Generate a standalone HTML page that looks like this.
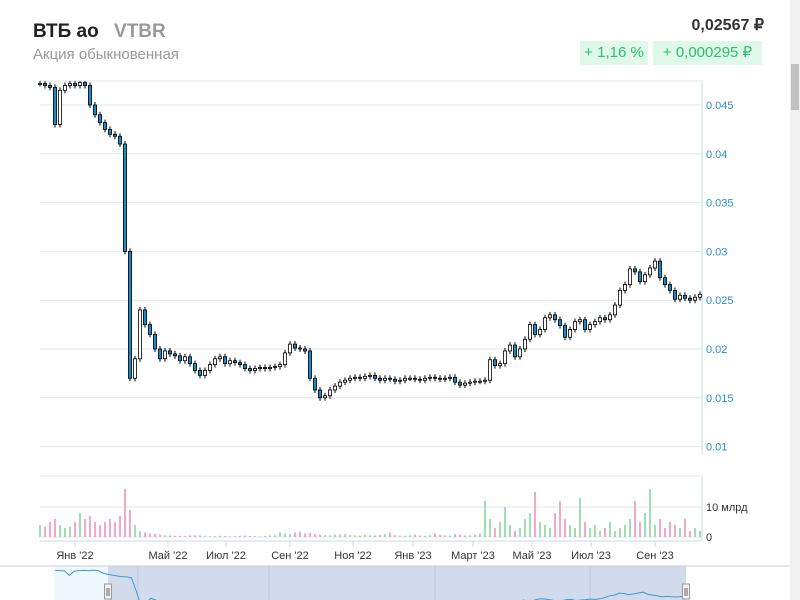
<!DOCTYPE html>
<html><head><meta charset="utf-8">
<style>
body{margin:0;width:800px;height:600px;overflow:hidden;background:#fff;font-family:"Liberation Sans","Noto Sans CJK SC",sans-serif;position:relative}
.abs{position:absolute}
</style></head><body>
<div class="abs" style="left:33px;top:21px;font-size:19px;font-weight:bold;color:#222">ВТБ ао <span style="color:#999;margin-left:10px">VTBR</span></div>
<div class="abs" style="left:33px;top:46px;font-size:15px;color:#999">Акция обыкновенная</div>
<div class="abs" style="right:36px;top:15px;font-size:16px;font-weight:bold;color:#333">0,02567 ₽</div>
<div class="abs" style="left:580px;top:41px;width:68px;height:24px;line-height:24px;text-align:center;background:#dff8ea;color:#2bbf6a;font-size:15px">+ 1,16 %</div>
<div class="abs" style="left:653px;top:41px;width:109px;height:24px;line-height:24px;text-align:center;background:#dff8ea;color:#2bbf6a;font-size:15px">+ 0,000295 ₽</div>
<div class="abs" style="left:790px;top:0;width:10px;height:600px;background:#f1f1f1"></div>
<div class="abs" style="left:791px;top:64px;width:8px;height:46px;background:#c1c1c1"></div>
<svg id="chart" class="abs" style="left:0;top:0" width="790" height="600"></svg>
<script>
const closes=[0.0472,0.0470,0.0468,0.0430,0.0465,0.0470,0.0472,0.0470,0.0473,0.0470,0.0450,0.0440,0.0432,0.0425,0.0420,0.0418,0.0410,0.0300,0.0170,0.0190,0.0240,0.0225,0.0215,0.0200,0.0190,0.0198,0.0195,0.0193,0.0188,0.0192,0.0185,0.0178,0.0173,0.0178,0.0184,0.0190,0.0192,0.0185,0.0188,0.0186,0.0184,0.0180,0.0178,0.0180,0.0181,0.0180,0.0181,0.0182,0.0184,0.0196,0.0205,0.0201,0.0200,0.0198,0.0170,0.0158,0.0150,0.0152,0.0158,0.0162,0.0166,0.0168,0.0170,0.0171,0.0170,0.0172,0.0173,0.0170,0.0168,0.0170,0.0169,0.0167,0.0168,0.0170,0.0170,0.0169,0.0168,0.0170,0.0171,0.0170,0.0169,0.0170,0.0171,0.0166,0.0163,0.0165,0.0166,0.0167,0.0167,0.0168,0.0189,0.0183,0.0185,0.0198,0.0204,0.0192,0.0200,0.0210,0.0225,0.0215,0.0220,0.0232,0.0235,0.0230,0.0224,0.0212,0.0220,0.0228,0.0230,0.0220,0.0225,0.0228,0.0232,0.0230,0.0235,0.0245,0.0260,0.0266,0.0282,0.0279,0.0269,0.0276,0.0283,0.0290,0.0273,0.0266,0.0260,0.0251,0.0255,0.0252,0.0250,0.0253,0.0256];
const volumes=[4,3.5,5,6,4,3,3.5,5,8,6,7,5,4,5,6,5,7,16,9,4,2,1.5,1.2,1,0.8,0.6,0.5,0.4,0.4,0.3,0.5,0.6,0.5,0.4,0.3,0.3,0.4,0.3,0.2,0.3,0.4,0.5,0.3,0.3,0.2,0.3,0.5,0.6,1.5,1.2,1,1.5,1.8,1.2,1.4,1,0.8,0.7,0.6,0.8,0.9,1,0.7,0.6,0.5,0.8,0.6,0.5,0.7,1,1.5,0.6,0.5,0.4,0.6,0.8,0.5,0.4,0.6,1.2,0.8,0.6,0.5,1,0.8,0.5,0.6,0.8,1.2,12,6,3,5,10,4,2,3,6,8,15,5,4,3,8,12,6,4,3,13,5,3,4,2,3,5,2,3,4,6,12,5,8,16,4,6,3,5,4,3,6,2,3,2,2.5,2,1.5,2];
const yTicks=[0.01,0.015,0.02,0.025,0.03,0.035,0.04,0.045];
const xLabels=["Янв '22","Май '22","Июл '22","Сен '22","Ноя '22","Янв '23","Март '23","Май '23","Июл '23","Сен '23"];
const xLabelIdx=[7,25.6,37.2,50,62.6,74.6,86.6,98.4,110.2,123];
const NS="http://www.w3.org/2000/svg";
const svg=document.getElementById('chart');
function mk(t,a,p){const e=document.createElementNS(NS,t);for(const k in a)e.setAttribute(k,a[k]);(p||svg).appendChild(e);return e;}
const X0=40,X1=700,n=closes.length,step=(X1-X0)/(n-1);
const xs=i=>X0+i*step;
const yP=v=>105+(0.045-v)*9760;
const yV=v=>537-v*3;
[81].concat(yTicks.map(yP)).forEach(y=>{const g=mk('line',{x1:X0,x2:702,y1:y,y2:y,stroke:'#e6e6e6'});});
mk('line',{x1:702,x2:702,y1:81,y2:455,stroke:'#c8d8ea'});
yTicks.forEach(v=>{const t=mk('text',{x:706,y:yP(v)+4,'font-size':11,fill:'#2a8fce'});t.textContent=String(v);});
const clip=mk('clipPath',{id:'pc'});mk('rect',{x:X0-3,y:81,width:665,height:380},clip);
const cg=mk('g',{'clip-path':'url(#pc)'});
closes.forEach((c,i)=>{
  const o=i?closes[i-1]:c;const x=xs(i);
  const hi=Math.max(o,c),lo=Math.min(o,c);
  const w=mk('line',{x1:x,x2:x,y1:yP(hi)-3,y2:yP(lo)+3,stroke:'#000'},cg);
  
  const r=mk('rect',{x:x-1.6,y:yP(hi),width:3.2,height:Math.max(1,yP(lo)-yP(hi)),fill:c<o?'#1a8ccc':'#fff',stroke:'#000','stroke-width':0.8},cg);
  
});
[476,507,537].forEach(y=>mk('line',{x1:X0,x2:702,y1:y,y2:y,stroke:'#e6e6e6'}));
mk('line',{x1:702,x2:702,y1:476,y2:541,stroke:'#c8d8ea'});
mk('line',{x1:X0,x2:702,y1:541,y2:541,stroke:'#c8d8ea'});
[["10 млрд",507],["0",537]].forEach(a=>{const t=mk('text',{x:706,y:a[1]+4,'font-size':11,fill:'#333'});t.textContent=a[0];});
volumes.slice(0,n).forEach((v,i)=>{const up=i==0||closes[i]>=closes[i-1];
  const b=mk('rect',{x:xs(i)-1,y:yV(v),width:2,height:537-yV(v),fill:up?'#9fe0b0':'#f5a8c4'});
  });
xLabelIdx.forEach((idx,k)=>{const x=xs(idx);
  mk('line',{x1:x,x2:x,y1:541,y2:547,stroke:'#c8d8ea'});
  const t=mk('text',{x:x,y:559,'font-size':11,fill:'#333','text-anchor':'middle'});t.textContent=xLabels[k];
  });
mk('rect',{x:55,y:566,width:53,height:34,fill:'#eef7fb'});
const sel=mk('rect',{x:108,y:566,width:578,height:34,fill:'#d2dbeb'});

mk('line',{x1:0,x2:790,y1:566,y2:566,stroke:'#ccc'});
[138,269,435,590].forEach(x=>mk('line',{x1:x,x2:x,y1:566,y2:600,stroke:'#bfc9dc'}));
const nclip=mk('clipPath',{id:'nc'});mk('rect',{x:0,y:566,width:790,height:34},nclip);
let pts=closes.map((c,i)=>[55+i*(631/(n-1)),570+(0.0475-c)*1200]);
const nl=mk('polyline',{points:pts.map(p=>p.join(',')).join(' '),fill:'none',stroke:'#3a9ad6','stroke-width':1,'clip-path':'url(#nc)'});

[108,686].forEach(x=>{const h=mk('rect',{x:x-3.5,y:584,width:7,height:15,fill:'#f2f2f2',stroke:'#999'});
  
  mk('line',{x1:x-1,x2:x-1,y1:588,y2:596,stroke:'#666'});mk('line',{x1:x+1,x2:x+1,y1:588,y2:596,stroke:'#666'});});
</script>
</body></html>
